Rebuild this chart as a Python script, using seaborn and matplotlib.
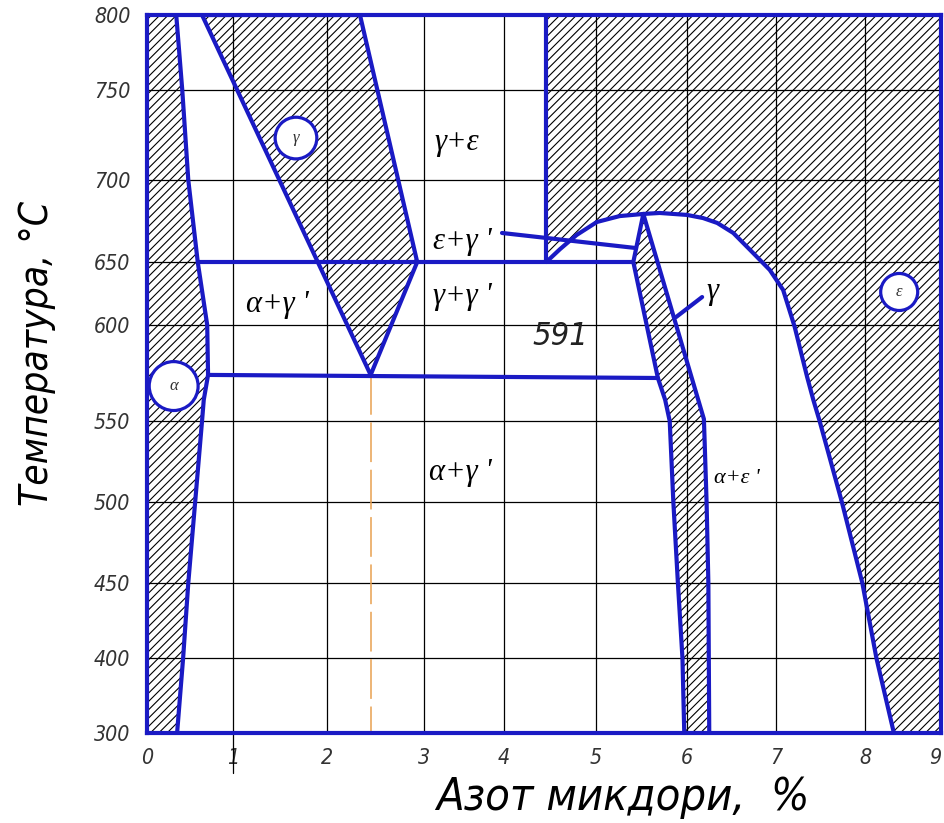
import numpy as np
import pandas as pd
import seaborn as sns
import matplotlib
matplotlib.use("Agg")
import matplotlib.pyplot as plt
from matplotlib import font_manager

# Axis ticks and their uneven (hand drawn) spacing on the original sheet
X_TICKS = [0, 1, 2, 3, 4, 5, 6, 7, 8, 9]
X_SPACING = [0, 86, 180, 277, 357, 449, 540, 629, 718, 794]
Y_TICKS = [300, 400, 450, 500, 550, 600, 650, 700, 750, 800]
Y_SPACING = [0, 75, 150, 231, 312, 408, 471, 553, 643, 718]

# Phase boundaries: nitrogen, % vs temperature, C
alpha_n = [0.34, 0.41, 0.48, 0.59, 0.70, 0.71, 0.66, 0.64, 0.56, 0.48, 0.42, 0.35]
alpha_t = [800, 750, 700, 650, 600, 574, 561, 550, 500, 450, 400, 300]

gamma_n = [0.64, 2.34, 2.93, 2.45]
gamma_t = [800, 800, 650, 574]

dome_n = [4.46, 4.61, 4.79, 5.01, 5.26, 5.52, 5.70, 6.00, 6.18, 6.34, 6.52, 6.71,
          6.93, 7.08, 7.21, 7.35, 7.42, 7.49, 7.74, 7.97, 8.15, 8.38]
dome_t = [650, 657.9, 666.5, 674.4, 678.0, 679.3, 679.9, 678.7, 676.8, 673.8, 667.7, 657.3,
          643.7, 627.8, 599.0, 572.9, 560.9, 550, 500, 450, 400, 300]

band_left_n = [5.52, 5.41, 5.68, 5.76, 5.81, 5.85, 5.90, 5.95, 5.97]
band_left_t = [679.3, 650, 572.4, 561, 550, 500, 450, 400, 300]
band_right_n = [5.52, 6.19, 6.22, 6.24, 6.25]
band_right_t = [679.3, 551, 500, 450, 300]

eps_wall_n = [4.46, 4.46]
eps_wall_t = [800, 650]
line650_n = [0.59, 5.41]
line650_t = [650, 650]
eutectoid_n = [0.71, 5.68]
eutectoid_t = [574, 572.4]
leader_eg_n = [3.975, 5.44]
leader_eg_t = [667.7, 658.5]
leader_g_n = [5.88, 6.17]
leader_g_t = [606.3, 622.2]
comp_n = [2.45, 2.45]
comp_t = [574, 300]

# Region labels
label_text = ["γ+ε", "ε+γ '", "γ+γ '", "α+γ '", "α+γ '", "α+ε '", "γ"]
label_n = [3.41, 3.48, 3.48, 1.47, 3.46, 6.56, 6.29]
label_t = [720.6, 662.8, 623.0, 615.9, 518.5, 514.8, 626.2]
label_size = [22, 22, 22, 22, 22, 16, 22]

circle_text = ["γ", "α", "ε"]
circle_n = [1.67, 0.31, 8.45]
circle_t = [723.3, 568.2, 626.2]
circle_size = [900, 1240, 710]

BLUE = "#1a1ac4"

sns.set_theme(style="white")
fonts = font_manager.fontManager.ttflist
available = {f.name for f in fonts}
stretch = "normal"
if "Liberation Sans Narrow" in available:
    SANS, k = "Liberation Sans Narrow", 1.0
else:
    SANS, k = "DejaVu Sans", 0.8
    narrow = [f.stretch for f in fonts if f.name == "DejaVu Sans" and f.stretch not in ("normal", 500)]
    if narrow:
        stretch, k = narrow[0], 0.9
SERIF = "Liberation Serif" if "Liberation Serif" in available else "DejaVu Serif"
plt.rcParams["font.family"] = [SANS, "DejaVu Sans"]
plt.rcParams["hatch.linewidth"] = 0.8
sans_kw = dict(style="italic", stretch=stretch)

fig = plt.figure(figsize=(9.44, 8.23), dpi=100)
ax = fig.add_axes([147 / 944, 90 / 823, 794 / 944, 718 / 823])

# hatched single-phase regions
hatch_kw = dict(facecolor="none", edgecolor="black", linewidth=0, hatch="////", zorder=1)
ax.fill([0] + alpha_n + [0], [800] + alpha_t + [300], **hatch_kw)
ax.fill(gamma_n, gamma_t, **hatch_kw)
ax.fill([4.46, 9, 9] + dome_n[::-1], [800, 800, 300] + dome_t[::-1], **hatch_kw)
ax.fill(band_left_n + band_right_n[::-1], band_left_t + band_right_t[::-1], **hatch_kw)

lines = {
    "alpha": (alpha_n, alpha_t),
    "gamma": (gamma_n + [gamma_n[0]], gamma_t + [gamma_t[0]]),
    "dome": (dome_n, dome_t),
    "band_left": (band_left_n, band_left_t),
    "band_right": (band_right_n, band_right_t),
    "eps_wall": (eps_wall_n, eps_wall_t),
    "line650": (line650_n, line650_t),
    "eutectoid": (eutectoid_n, eutectoid_t),
    "leader_eg": (leader_eg_n, leader_eg_t),
    "leader_g": (leader_g_n, leader_g_t),
}
df = pd.concat([pd.DataFrame({"N": n, "T": t, "line": name})
                for name, (n, t) in lines.items()], ignore_index=True)
sns.lineplot(data=df, x="N", y="T", units="line", estimator=None, sort=False,
             color=BLUE, lw=3, ax=ax, legend=False, zorder=3,
             solid_capstyle="round", solid_joinstyle="round")
ax.plot(comp_n, comp_t, color="#e8a050", lw=1.1, dashes=(26, 5), zorder=2)

sns.scatterplot(x=circle_n, y=circle_t, s=circle_size, marker="o", color="white",
                edgecolor=BLUE, linewidth=2.3, ax=ax, zorder=4, legend=False)
for txt, n, t in zip(circle_text, circle_n, circle_t):
    ax.text(n, t, txt, family=SERIF, style="italic", fontsize=12, color="#333333",
            ha="center", va="center", zorder=5)
for txt, n, t, fs in zip(label_text, label_n, label_t, label_size):
    ax.text(n, t, txt, family=SERIF, style="italic", fontsize=fs, color="black",
            ha="center", va="center", zorder=5)
ax.text(4.61, 593.8, "591", fontsize=26 * k, color="#222222",
        ha="center", va="center", zorder=5, **sans_kw)

# uneven axis spacing of the drawing
ax.set_xscale("function", functions=(lambda v: np.interp(v, X_TICKS, X_SPACING),
                                     lambda p: np.interp(p, X_SPACING, X_TICKS)))
ax.set_yscale("function", functions=(lambda v: np.interp(v, Y_TICKS, Y_SPACING),
                                     lambda p: np.interp(p, Y_SPACING, Y_TICKS)))
ax.set_xlim(0, 9)
ax.set_ylim(300, 800)
ax.set_xticks(X_TICKS)
ax.set_yticks(Y_TICKS)
ax.set_xticklabels([str(v) for v in X_TICKS], fontsize=17 * k, color="#333333", **sans_kw)
ax.set_yticklabels([str(v) for v in Y_TICKS], fontsize=17 * k, color="#333333", **sans_kw)
ax.get_xticklabels()[-1].set_ha("right")
ax.tick_params(axis="x", length=0, pad=11)
ax.tick_params(axis="y", length=0, pad=12)
ax.grid(True, color="black", lw=0.9)
ax.set_axisbelow(True)
ax.plot([1, 1], [0, -0.056], transform=ax.get_xaxis_transform(), color="black",
        lw=0.9, clip_on=False)

for s in ax.spines.values():
    s.set_color(BLUE)
    s.set_linewidth(3)
    s.set_zorder(6)

ax.set_xlabel("Азот микдори,  %", fontsize=36 * k, color="black", va="center", **sans_kw)
ax.xaxis.set_label_coords(0.5995, -0.09)
ax.set_ylabel("Температура, °С", fontsize=31 * k, color="black", va="center", **sans_kw)
ax.yaxis.set_label_coords(-0.1385, 0.528)

fig.savefig("out.png", dpi=100)
